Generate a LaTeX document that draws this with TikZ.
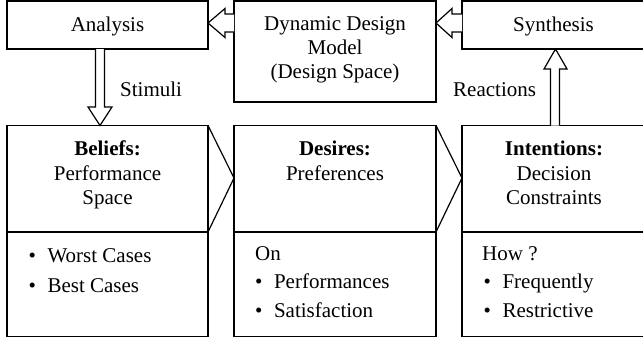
\documentclass[tikz,border=0pt]{standalone}
\usepackage{fontspec}
\setmainfont{Liberation Serif}
\usetikzlibrary{calc}
\newcommand{\blt}{\textbullet\hspace{11.5pt}}
\begin{document}
\begin{tikzpicture}[x=1pt,y=-1pt,
  box/.style={draw=black, line width=1.2pt, rectangle, inner sep=0pt, outer sep=0pt},
  txt/.style={anchor=base, inner sep=0pt, font=\fontsize{21}{24}\selectfont},
  ltxt/.style={anchor=base west, inner sep=0pt, font=\fontsize{21}{24}\selectfont},
  edge/.style={line width=1.2pt, line join=miter},
  barrow/.style={draw=black, line width=1.2pt, fill=white, line join=miter}]
\useasboundingbox (0,0) rectangle (643,343);
\begin{scope}
\clip (0,0) rectangle (643,343);
% top boxes
\node[box, minimum width=201pt, minimum height=48pt] (analysis) at (107.5,25) {};
\node[box, minimum width=202pt, minimum height=101pt] (dynamic) at (335,51.5) {};
\node[box, minimum width=186pt, minimum height=48pt] (synthesis) at (555,25) {};
% bottom boxes
\node[box, minimum width=201pt, minimum height=211pt] (beliefs) at (107.5,231) {};
\node[box, minimum width=202pt, minimum height=211pt] (desires) at (335,231) {};
\node[box, minimum width=186pt, minimum height=211pt] (intentions) at (555,231) {};
% dividers
\coordinate (bdiv) at (0,232);
\draw[edge] (beliefs.west |- bdiv) -- (beliefs.east |- bdiv);
\draw[edge] (desires.west |- bdiv) -- (desires.east |- bdiv);
\draw[edge] (intentions.west |- bdiv) -- (intentions.east |- bdiv);
% chevrons
\draw[edge] (beliefs.north east) -- (desires.west |- 0,178) -- (beliefs.east |- bdiv);
\draw[edge] (desires.north east) -- (intentions.west |- 0,178) -- (desires.east |- bdiv);
% block arrow dynamic -> analysis
\draw[barrow] (dynamic.west |- 0,14) -- (225,14) -- (225,8.5) -- (analysis.east |- 0,23)
  -- (225,37.5) -- (225,32) -- (dynamic.west |- 0,32);
% block arrow synthesis -> dynamic
\draw[barrow] (synthesis.west |- 0,14) -- (452,14) -- (452,8.5) -- (dynamic.east |- 0,23)
  -- (452,37.5) -- (452,32) -- (synthesis.west |- 0,32);
% stimuli arrow analysis -> beliefs
\draw[barrow] (95.5,0 |- analysis.south) -- (95.5,107) -- (88,107) -- (100,0 |- beliefs.north)
  -- (112,107) -- (104.5,107) -- (104.5,0 |- analysis.south);
% reactions arrow intentions -> synthesis
\draw[barrow] (550.5,0 |- intentions.north) -- (550.5,69) -- (544,69) -- (555.5,0 |- synthesis.south)
  -- (567,69) -- (559.5,69) -- (559.5,0 |- intentions.north);
\end{scope}
% texts
\node[txt] (tanalysis) at (107.5,31) {Analysis};
\node[txt] (tdyn1) at (335,30) {Dynamic Design};
\node[txt] (tdyn2) at (335,54) {Model};
\node[txt] (tdyn3) at (335,78) {(Design Space)};
\node[txt] (tsynth) at (553.5,31) {Synthesis};
\node[ltxt] (tstim) at (120,96) {Stimuli};
\node[ltxt] (treact) at (453,96) {Reactions};
% beliefs
\node[txt] (tb1) at (107.5,155) {\bfseries Beliefs:};
\node[txt] (tb2) at (107.5,180) {Performance};
\node[txt] (tb3) at (107.5,204) {Space};
\node[ltxt] (tb4) at (28.5,262) {\blt Worst Cases};
\node[ltxt] (tb5) at (28.5,292) {\blt Best Cases};
% desires
\node[txt] (td1) at (335,155) {\bfseries Desires:};
\node[txt] (td2) at (335,180) {Preferences};
\node[ltxt] (td3) at (255,260) {On};
\node[ltxt] (td4) at (255,288) {\blt Performances};
\node[ltxt] (td5) at (255,317) {\blt Satisfaction};
% intentions
\node[txt] (ti1) at (554,155) {\bfseries Intentions:};
\node[txt] (ti2) at (554,180) {Decision};
\node[txt] (ti3) at (554,204) {Constraints};
\node[ltxt] (ti4) at (482,260) {How ?};
\node[ltxt] (ti5) at (483.5,288) {\blt Frequently};
\node[ltxt] (ti6) at (483.5,317) {\blt Restrictive};
\end{tikzpicture}
\end{document}
